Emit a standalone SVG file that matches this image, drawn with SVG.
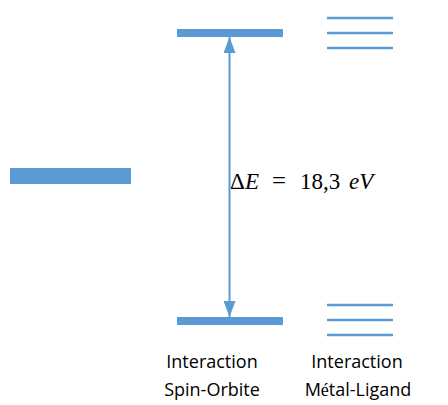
<svg xmlns="http://www.w3.org/2000/svg" width="448" height="405" viewBox="0 0 448 405">
<style>
.lvl{fill:#5B9BD5}
.thin{stroke:#5B9BD5;stroke-width:2.5;fill:none}
.lbl{font-family:"Open Sans","Liberation Sans",sans-serif;font-size:18px;fill:#000;text-anchor:middle}
.math{font-family:"Liberation Serif","DejaVu Serif",serif;font-size:23px;fill:#000}
</style>
<defs>
<marker id="ah" viewBox="0 0 16 12" refX="16" refY="6" markerWidth="16" markerHeight="12" markerUnits="userSpaceOnUse" orient="auto">
<path d="M0,0 L16,6 L0,12 Z" fill="#5B9BD5"/>
</marker>
</defs>
<g id="level-initial"><rect class="lvl" x="10" y="168" width="121" height="16"/></g>
<g id="level-so-top"><rect class="lvl" x="177" y="29" width="106" height="8"/></g>
<g id="level-so-bottom"><rect class="lvl" x="177" y="317" width="106" height="8"/></g>
<g id="level-ml-top">
<line class="thin" x1="327" y1="18" x2="393" y2="18"/>
<line class="thin" x1="327" y1="33" x2="393" y2="33"/>
<line class="thin" x1="327" y1="48" x2="393" y2="48"/>
</g>
<g id="level-ml-bottom">
<line class="thin" x1="327" y1="305" x2="393" y2="305"/>
<line class="thin" x1="327" y1="320" x2="393" y2="320"/>
<line class="thin" x1="327" y1="335" x2="393" y2="335"/>
</g>
<g id="connectors">
<line x1="229.5" y1="177" x2="229.5" y2="37" stroke="#5B9BD5" stroke-width="2" marker-end="url(#ah)"/>
<line x1="229.5" y1="177" x2="229.5" y2="317" stroke="#5B9BD5" stroke-width="2" marker-end="url(#ah)"/>
</g>
<g id="delta-label">
<text class="math" y="189"><tspan x="230">Δ</tspan><tspan x="245" font-style="italic">E</tspan><tspan x="272" font-size="25">=</tspan><tspan x="300">18,3</tspan><tspan x="349" font-style="italic">eV</tspan></text>
</g>
<g id="label-so">
<text class="lbl" x="212" y="368">Interaction</text>
<text class="lbl" x="212" y="396">Spin-Orbite</text>
</g>
<g id="label-ml">
<text class="lbl" x="357" y="368">Interaction</text>
<text class="lbl" x="358" y="396">M<tspan font-family="Liberation Serif,serif">é</tspan>tal-Ligand</text>
</g>
</svg>
